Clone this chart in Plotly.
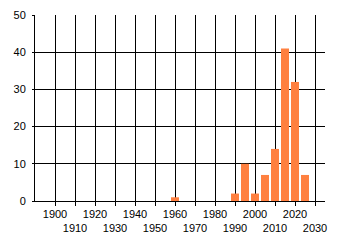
import plotly.graph_objects as go

years = [1960, 1990, 1995, 2000, 2005, 2010, 2015, 2020, 2025]
counts = [1, 2, 10, 2, 7, 14, 41, 32, 7]
tick_years = list(range(1900, 2031, 10))
row1_years = tick_years[0::2]
row2_years = tick_years[1::2]
tick_labels_row1 = [str(y) if y in row1_years else "" for y in tick_years]
tick_labels_row2 = [str(y) for y in row2_years]
y_ticks = [0, 10, 20, 30, 40, 50]

fig = go.Figure()
fig.add_trace(go.Bar(x=years, y=counts, width=4, marker=dict(color="#FF8040", line=dict(width=0))))
# invisible helper trace so the second label row axis is drawn
fig.add_trace(go.Scatter(x=years, y=counts, xaxis="x2", mode="markers",
                         marker=dict(opacity=0), hoverinfo="skip", showlegend=False))

fig.update_layout(
    width=340, height=245,
    margin=dict(l=35, r=15, t=15, b=44, autoexpand=False),
    paper_bgcolor="white", plot_bgcolor="white",
    showlegend=False,
    font=dict(family="Liberation Sans", size=11, color="#000000"),
    xaxis=dict(
        range=[1890, 2035], tickvals=tick_years, ticktext=tick_labels_row1,
        showgrid=True, gridcolor="black", gridwidth=1,
        showline=True, linecolor="black", linewidth=1,
        ticks="outside", ticklen=4, tickcolor="black", tickangle=0,
        ticklabelstandoff=-1,
        zeroline=False, fixedrange=True, automargin=False,
    ),
    xaxis2=dict(
        range=[1890, 2035], tickvals=row2_years, ticktext=tick_labels_row2,
        overlaying="x", side="bottom", anchor="y",
        showgrid=False, showline=False, ticks="", tickangle=0,
        ticklabelstandoff=19, zeroline=False, fixedrange=True, automargin=False,
    ),
    yaxis=dict(
        range=[0, 50], tickvals=y_ticks,
        showgrid=True, gridcolor="black", gridwidth=1,
        showline=True, linecolor="black", linewidth=1,
        ticks="outside", ticklen=2, tickcolor="black",
        ticklabelstandoff=4,
        zeroline=False, fixedrange=True, automargin=False,
    ),
)
fig.write_html("out.html")
